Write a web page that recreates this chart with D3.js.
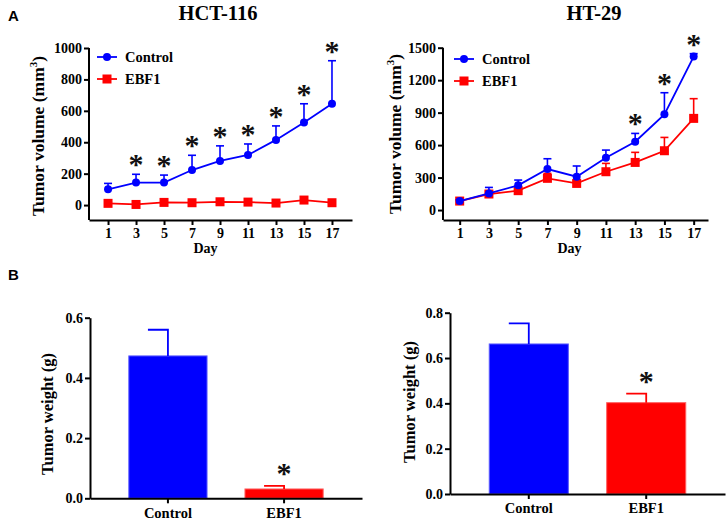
<!DOCTYPE html>
<html><head><meta charset="utf-8">
<script src="https://cdn.jsdelivr.net/npm/d3@7"></script>
<style>body{margin:0;background:#fff}svg{display:block}</style>
</head><body>
<script>
// ---------- DATA ----------
const days = [1,3,5,7,9,11,13,15,17];
const hctControl = [100,143,143,223,281,319,415,526,645];
const hctControlUp = [138,196,191,317,377,389,504,645,919];
const hctEbf1 = [11,4,17,15,21,19,13,32,15];
const hctEbf1Up = [25,12,35,28,33,30,24,45,28];
const hctSig = [false,true,true,true,true,true,true,true,true];

const htControl = [83,154,228,379,308,484,631,884,1418];
const htControlUp = [95,209,277,474,407,554,708,1084,1445];
const htEbf1 = [83,148,179,293,246,354,440,548,847];
const htEbf1Up = [95,165,200,339,270,431,533,671,1029];
const htSig = [false,false,false,false,false,false,true,true,true];

const barCats = ["Control","EBF1"];
const hctWeight = [0.473,0.031];
const hctWeightUp = [0.560,0.041];
const htWeight = [0.662,0.403];
const htWeightUp = [0.753,0.443];
const barSig = [false,true];

const volTicksHct = [0,200,400,600,800,1000];
const volTicksHt = [0,300,600,900,1200,1500];
const wTicksHct = [0,0.2,0.4,0.6];
const wTicksHt = [0,0.2,0.4,0.6,0.8];

// ---------- STYLE ----------
const BLUE = "#0000ff", RED = "#ff0000";
const SERIF = "'Liberation Serif','Times New Roman',serif";
const SANS = "'Liberation Sans',Arial,sans-serif";

const svg = d3.select("body").append("svg").attr("width",726).attr("height",523);

function styleAxis(g){
  g.attr("font-family",SERIF).attr("font-size",14);
  g.selectAll("path.domain").attr("stroke","#000").attr("stroke-width",2);
  g.selectAll(".tick line").attr("stroke","#000").attr("stroke-width",2);
  g.selectAll(".tick text").attr("font-family",SERIF).attr("font-weight","bold")
    .attr("font-size",14).attr("fill","#000");
}

function star(x,y){
  svg.append("text").attr("x",x).attr("y",y+15).attr("text-anchor","middle")
    .attr("font-family",SERIF).attr("font-weight","bold").attr("font-size",30).attr("fill","#111").text("*");
}

function linePanel(o){
  const x = d3.scaleLinear().domain(o.xd).range(o.xr);
  const y = d3.scaleLinear().domain(o.yd).range(o.yr);
  const gx = svg.append("g").attr("transform",`translate(0,${o.yr[0]})`)
    .call(d3.axisBottom(x).tickValues(days).tickSize(5).tickSizeOuter(0).tickPadding(3));
  styleAxis(gx);
  const gy = svg.append("g").attr("transform",`translate(${o.xr[0]},0)`)
    .call(d3.axisLeft(y).tickValues(o.ticks).tickFormat(d3.format("d")).tickSize(5).tickSizeOuter(0).tickPadding(2));
  styleAxis(gy);
  gy.select("path.domain").attr("d",`M0,${o.yr[0]}V${o.yr[1]}`);

  const series = [
    {v:o.ebf, up:o.ebfUp, c:RED, sq:true},
    {v:o.ctl, up:o.ctlUp, c:BLUE, sq:false}
  ];
  series.forEach(s=>{
    const g = svg.append("g");
    g.selectAll("line.err").data(days).join("line")
      .attr("x1",d=>x(d)).attr("x2",d=>x(d))
      .attr("y1",(d,i)=>y(s.v[i])).attr("y2",(d,i)=>y(s.up[i]))
      .attr("stroke",s.c).attr("stroke-width",1.6);
    g.selectAll("line.cap").data(days).join("line")
      .attr("x1",d=>x(d)-4).attr("x2",d=>x(d)+4)
      .attr("y1",(d,i)=>y(s.up[i])).attr("y2",(d,i)=>y(s.up[i]))
      .attr("stroke",s.c).attr("stroke-width",1.6);
    g.append("path").datum(days)
      .attr("d",d3.line().x(d=>x(d)).y((d,i)=>y(s.v[i])))
      .attr("fill","none").attr("stroke",s.c).attr("stroke-width",1.8);
    if(s.sq){
      g.selectAll("rect").data(days).join("rect")
        .attr("x",d=>x(d)-4.5).attr("y",(d,i)=>y(s.v[i])-4.5)
        .attr("width",9).attr("height",9).attr("fill",s.c);
    } else {
      g.selectAll("circle").data(days).join("circle")
        .attr("cx",d=>x(d)).attr("cy",(d,i)=>y(s.v[i])).attr("r",4).attr("fill",s.c);
    }
  });
  days.forEach((d,i)=>{ if(o.sig[i]) star(x(d), y(o.ctlUp[i]) - 15); });

  // title
  svg.append("text").attr("x",o.title[1]).attr("y",20).attr("text-anchor","middle")
    .attr("font-family",SERIF).attr("font-weight","bold").attr("font-size",20.5).text(o.title[0]);
  // x label
  svg.append("text").attr("x",(o.xr[0]+o.xr[1])/2+ (o.dayDx||0)).attr("y",253).attr("text-anchor","middle")
    .attr("font-family",SERIF).attr("font-weight","bold").attr("font-size",14).text("Day");
  // y label
  const yl = svg.append("text").attr("transform",`translate(${o.ylx},${o.ylc}) rotate(-90)`)
    .attr("text-anchor","middle").attr("font-family",SERIF).attr("font-weight","bold").attr("font-size",17.5);
  yl.append("tspan").text("Tumor volume (mm");
  yl.append("tspan").attr("font-size",11).attr("dy",-7).text("3");
  yl.append("tspan").attr("dy",7).text(")");
  // legend
  const lg = [{t:"Control",c:BLUE,sq:false,y:o.leg[1]},{t:"EBF1",c:RED,sq:true,y:o.leg[1]+22}];
  lg.forEach(l=>{
    const lx = o.leg[0];
    svg.append("line").attr("x1",lx).attr("x2",lx+20).attr("y1",l.y).attr("y2",l.y)
      .attr("stroke",l.c).attr("stroke-width",1.8);
    if(l.sq) svg.append("rect").attr("x",lx+10-4.5).attr("y",l.y-4.5).attr("width",9).attr("height",9).attr("fill",l.c);
    else svg.append("circle").attr("cx",lx+10).attr("cy",l.y).attr("r",4).attr("fill",l.c);
    svg.append("text").attr("x",lx+28).attr("y",l.y+5).attr("font-family",SERIF)
      .attr("font-weight","bold").attr("font-size",14.5).text(l.t);
  });
}

linePanel({
  xd:[-0.36,18.43], xr:[89,352], yd:[-95,1000], yr:[220,48],
  ticks:volTicksHct, ctl:hctControl, ctlUp:hctControlUp, ebf:hctEbf1, ebfUp:hctEbf1Up,
  sig:hctSig, title:["HCT-116",218], ylx:44, ylc:136, leg:[97,57], dayDx:-15
});
linePanel({
  xd:[-0.14,17.98], xr:[443,708], yd:[-92,1500], yr:[220,47.7],
  ticks:volTicksHt, ctl:htControl, ctlUp:htControlUp, ebf:htEbf1, ebfUp:htEbf1Up,
  sig:htSig, title:["HT-29",594], ylx:401, ylc:134, leg:[454,59], dayDx:-6
});

function barPanel(o){
  const x = d3.scaleBand().domain(barCats).range(o.xr).paddingInner(0.318).paddingOuter(0.33);
  const y = d3.scaleLinear().domain(o.yd).range(o.yr);
  const cols = [BLUE,RED];
  const edges = ["#5a5aff","#ff6060"];
  svg.append("g").selectAll("rect").data(barCats).join("rect")
    .attr("x",d=>x(d)+0.5).attr("width",x.bandwidth()-1)
    .attr("y",(d,i)=>y(o.v[i])).attr("height",(d,i)=>y(0)-y(o.v[i]))
    .attr("fill",(d,i)=>cols[i]).attr("stroke",(d,i)=>edges[i]).attr("stroke-width",1);
  barCats.forEach((c,i)=>{
    const cx = x(c)+x.bandwidth()/2;
    svg.append("path").attr("d",`M${cx},${y(o.v[i])}V${y(o.up[i])}H${cx-20}`)
      .attr("fill","none").attr("stroke",cols[i]).attr("stroke-width",1.8);
    if(barSig[i]) star(cx, y(o.up[i]) - 18);
  });
  const gx = svg.append("g").attr("transform",`translate(0,${o.yr[0]})`)
    .call(d3.axisBottom(x).tickSize(5).tickSizeOuter(0).tickPadding(4));
  styleAxis(gx);
  gx.selectAll(".tick text").attr("font-size",14.5);
  const gy = svg.append("g").attr("transform",`translate(${o.xr[0]},0)`)
    .call(d3.axisLeft(y).tickValues(o.ticks).tickFormat(d3.format(".1f")).tickSize(5).tickSizeOuter(0).tickPadding(2));
  styleAxis(gy);
  svg.append("text").attr("transform",`translate(${o.ylx},${o.ylc}) rotate(-90)`)
    .attr("text-anchor","middle").attr("font-family",SERIF).attr("font-weight","bold")
    .attr("font-size",16.5).text("Tumor weight (g)");
}

barPanel({xr:[90,362], yd:[0,0.6], yr:[498.3,317.7], v:hctWeight, up:hctWeightUp, ticks:wTicksHct, ylx:53, ylc:414});
barPanel({xr:[450,725], yd:[0,0.8], yr:[494,312.7], v:htWeight, up:htWeightUp, ticks:wTicksHt, ylx:415, ylc:402});

svg.append("text").attr("x",8).attr("y",21).attr("font-family",SANS).attr("font-weight","bold").attr("font-size",15).text("A");
svg.append("text").attr("x",8).attr("y",280).attr("font-family",SANS).attr("font-weight","bold").attr("font-size",15).text("B");
</script>
</body></html>
